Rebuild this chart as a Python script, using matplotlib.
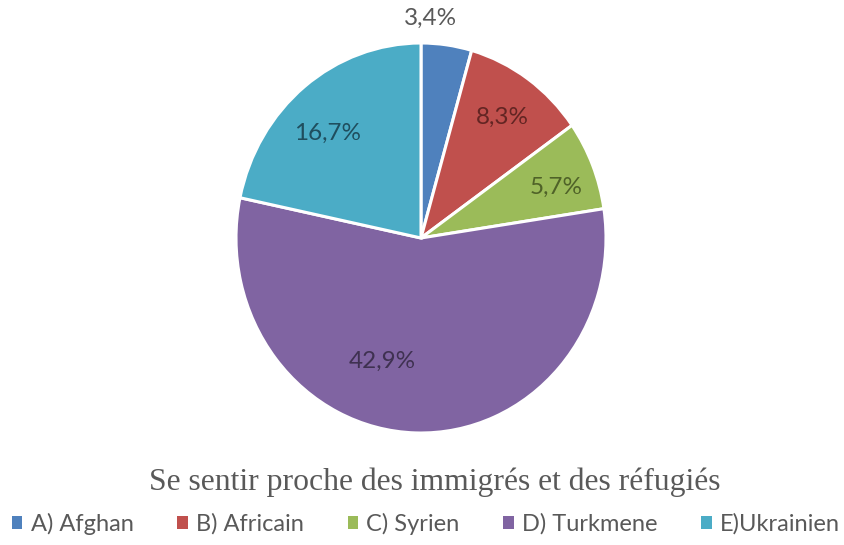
import matplotlib
matplotlib.use("Agg")
import matplotlib.pyplot as plt
import numpy as np
from matplotlib.patches import Patch

categories = ["A) Afghan", "B) Africain", "C) Syrien", "D) Turkmene", "E)Ukrainien"]
values = [3.4, 8.3, 5.7, 42.9, 16.7]
labels = ["3,4%", "8,3%", "5,7%", "42,9%", "16,7%"]
colors = ["#4F81BD", "#C0504D", "#9BBB59", "#8064A2", "#4BACC6"]
label_colors = ["#595959", "#632523", "#4F6228", "#3F3151", "#1F4E5E"]
title = "Se sentir proche des immigrés et des réfugiés"

# label placement (angle in degrees, radius) relative to pie
label_pos = [(87.5, 1.13), (54.5, 0.76), (19.6, 0.775), (251.6, 0.665), (133.0, 0.737)]

W, H = 845, 545
fig = plt.figure(figsize=(W / 100, H / 100), dpi=100)
cx, cy, rx, ry = 421, 238, 185, 195
ax = fig.add_axes([(cx - rx) / W, 1 - (cy + ry) / H, 2 * rx / W, 2 * ry / H])
wedges, _ = ax.pie(values, colors=colors, startangle=90, counterclock=False,
                   radius=1.0, wedgeprops=dict(edgecolor="white", linewidth=2.2))
ax.set_aspect("auto")
ax.set_xlim(-1, 1)
ax.set_ylim(-1, 1)
ax.axis("off")

for lab, col, (ang, r) in zip(labels, label_colors, label_pos):
    a = np.deg2rad(ang)
    ax.text(r * np.cos(a), r * np.sin(a), lab, ha="center", va="center",
            color=col, fontsize=17.5, family="Lato", clip_on=False)

fig.text(435 / W, 1 - 482 / H, title, ha="center", va="center",
         family="Liberation Serif", fontsize=22.8, color="#595959")

handles = [Patch(facecolor=c, edgecolor="none") for c in colors]
fig.legend(handles, categories, loc="center", bbox_to_anchor=(426 / W, 1 - 524 / H),
           ncol=5, frameon=False, prop=dict(family="Lato", size=17),
           handlelength=0.45, handleheight=0.45, handletextpad=0.35, columnspacing=1.85,
           labelcolor="#595959", borderpad=0, borderaxespad=0)

fig.savefig("out.png", dpi=100, facecolor="white")
